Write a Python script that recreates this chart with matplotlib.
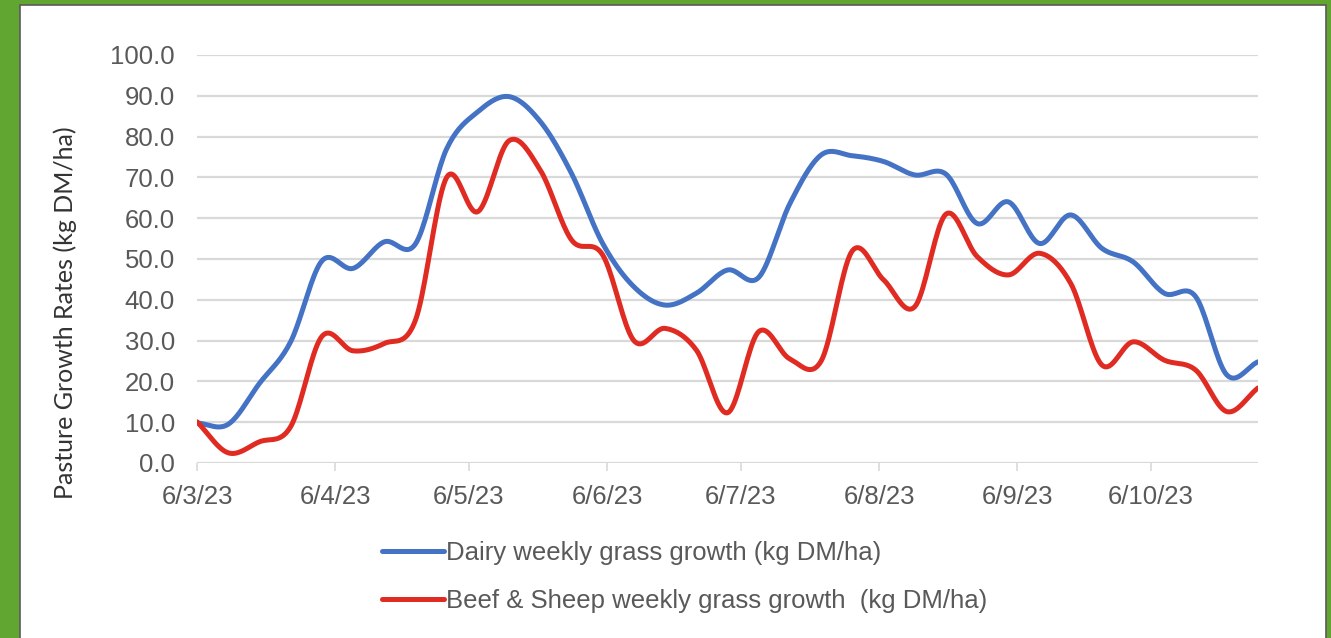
import numpy as np
import pandas as pd
import matplotlib
matplotlib.use("Agg")
import matplotlib.pyplot as plt
import matplotlib.dates as mdates
from matplotlib.patches import Rectangle

# weekly grass growth, kg DM/ha
weeks = pd.date_range("2023-03-06", periods=35, freq="7D")
dairy = [9.8, 9.5, 19.5, 29.7, 49.5, 47.7, 54.2, 53.7, 77.0, 86.1, 89.8, 83.7,
         71.0, 53.8, 43.2, 38.7, 41.6, 47.3, 45.5, 63.6, 75.5, 75.3, 73.9, 70.6,
         70.8, 58.7, 64.0, 53.8, 60.8, 52.6, 49.3, 41.6, 40.8, 21.6, 24.8]
beef = [10.1, 2.5, 5.2, 8.9, 31.0, 27.5, 29.3, 35.0, 70.0, 61.6, 79.0, 71.8,
        54.7, 51.0, 30.0, 33.0, 27.7, 12.3, 32.2, 25.5, 25.0, 52.0, 44.9, 38.3,
        61.0, 50.6, 46.1, 51.4, 44.0, 24.0, 29.7, 25.2, 22.8, 12.6, 18.4]
tick_labels = ["6/3/23", "6/4/23", "6/5/23", "6/6/23", "6/7/23", "6/8/23", "6/9/23", "6/10/23"]
tick_dates = pd.to_datetime(tick_labels, format="%d/%m/%y")

names = ["Dairy weekly grass growth (kg DM/ha)",
         "Beef & Sheep weekly grass growth  (kg DM/ha)"]
colours = ["#4472C4", "#E02B22"]


def smooth(x, y, n=20):
    # Catmull-Rom curve through the points, like Excel's "smoothed line"
    x = np.asarray(x, float)
    y = np.asarray(y, float)
    px = np.concatenate([[2 * x[0] - x[1]], x, [2 * x[-1] - x[-2]]])
    py = np.concatenate([[2 * y[0] - y[1]], y, [2 * y[-1] - y[-2]]])
    xs, ys = [], []
    t = np.linspace(0, 1, n, endpoint=False)
    for i in range(1, len(px) - 2):
        for p, out in ((px, xs), (py, ys)):
            p0, p1, p2, p3 = p[i - 1], p[i], p[i + 1], p[i + 2]
            out.append(0.5 * (2 * p1 + (-p0 + p2) * t
                              + (2 * p0 - 5 * p1 + 4 * p2 - p3) * t ** 2
                              + (-p0 + 3 * p1 - 3 * p2 + p3) * t ** 3))
    xs.append([x[-1]])
    ys.append([y[-1]])
    return np.concatenate(xs), np.concatenate(ys)


fig = plt.figure(figsize=(13.31, 6.38), dpi=100)
fig.patch.set_facecolor("white")

# green frame with a thin dark inner edge
W, H = 1331, 638
green = "#62A632"
for (x0, y0, w, h) in [(0, 0, 20, H), (0, H - 5, W, 5), (1326, 0, 5, H)]:
    fig.patches.append(Rectangle((x0 / W, y0 / H), w / W, h / H, transform=fig.transFigure,
                                 facecolor=green, edgecolor="none", zorder=0))
fig.patches.append(Rectangle((20 / W, -0.01), (1306 / W), (H - 5) / H + 0.01,
                             transform=fig.transFigure, facecolor="none",
                             edgecolor="#5a5a5a", linewidth=1.2, zorder=1))

ax = fig.add_axes([197 / W, 1 - 463 / H, (1258 - 197) / W, (463 - 55) / H])
ax.set_facecolor("white")

xnum = mdates.date2num(weeks)
for vals, name, col in zip([dairy, beef], names, colours):
    sx, sy = smooth(xnum, vals)
    ax.plot(sx, sy, color=col, lw=3.6, solid_capstyle="round", label=name, zorder=3)

ax.set_xlim(xnum[0], xnum[-1])
ax.set_ylim(0, 100)
ax.set_yticks(np.arange(0, 101, 10))
ax.set_yticklabels([f"{v:.1f}" for v in np.arange(0, 101, 10)])
ax.set_xticks(mdates.date2num(tick_dates))
ax.set_xticklabels(tick_labels)
ax.grid(axis="y", color="#d9d9d9", lw=1.6, zorder=0)
ax.set_axisbelow(True)
for s in ax.spines.values():
    s.set_visible(False)
ax.tick_params(axis="y", length=0, pad=16, labelsize=18.5, labelcolor="#595959")
ax.tick_params(axis="x", length=6, width=1.2, color="#d9d9d9", pad=10,
               labelsize=18.5, labelcolor="#595959")
for lab in ax.get_xticklabels() + ax.get_yticklabels():
    lab.set_family(["Liberation Sans", "DejaVu Sans"])

fig.text(65 / W, 1 - 313 / H, "Pasture Growth Rates (kg DM/ha)", rotation=90,
         ha="center", va="center", fontsize=18, color="#333333", family="Lato")

leg = fig.legend(loc="upper left", bbox_to_anchor=(372 / W, 1 - 531 / H), frameon=False,
                 ncol=1, handlelength=2.4, handletextpad=0.08, labelspacing=0.92,
                 prop={"family": "Liberation Sans", "size": 18.5}, borderaxespad=0)
for t in leg.get_texts():
    t.set_color("#595959")

fig.savefig("out.png", dpi=100)
